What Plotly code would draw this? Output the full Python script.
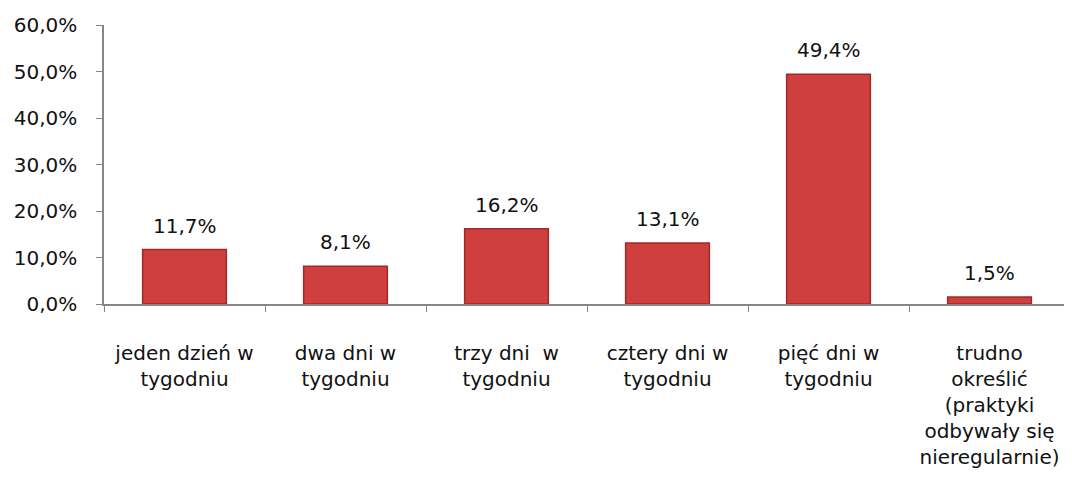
import plotly.graph_objects as go

categories = [
    "jeden dzień w<br>tygodniu",
    "dwa dni w<br>tygodniu",
    "trzy dni  w<br>tygodniu",
    "cztery dni w<br>tygodniu",
    "pięć dni w<br>tygodniu",
    "trudno<br>określić<br>(praktyki<br>odbywały się<br>nieregularnie)",
]
values = [0.117, 0.081, 0.162, 0.131, 0.494, 0.015]
y_ticks = [0, 0.1, 0.2, 0.3, 0.4, 0.5, 0.6]

FONT = "DejaVu Sans"
FS = 20
TXT = "#111111"


def pct(v):
    return f"{v * 100:.1f}%".replace(".", ",")


fig = go.Figure()
fig.add_trace(go.Bar(
    x=categories,
    y=values,
    width=0.52,
    marker=dict(color="#CF3F3D", line=dict(color="#9E2A2A", width=1.5)),
    hoverinfo="skip",
))

for c, v in zip(categories, values):
    fig.add_annotation(
        x=c, y=v, text=pct(v), showarrow=False,
        yanchor="bottom", yshift=10,
        font=dict(family=FONT, size=FS, color=TXT),
    )

fig.update_layout(
    width=1064, height=481,
    margin=dict(l=96, r=2, t=17, b=185),
    paper_bgcolor="white", plot_bgcolor="white",
    separators=", ",
    showlegend=False,
    font=dict(family=FONT, size=FS, color=TXT),
)
fig.update_xaxes(
    automargin=False,
    showline=True, linecolor="#868686", linewidth=1.5,
    ticks="outside", tickson="boundaries", ticklen=6, tickcolor="#868686",
    tickfont=dict(family=FONT, size=FS, color=TXT),
    ticklabelstandoff=30,
    showgrid=False, zeroline=False,
)
fig.update_yaxes(
    automargin=False,
    range=[0, 0.6], tickvals=y_ticks, tickformat=".1%",
    showline=True, linecolor="#868686", linewidth=1.5,
    ticks="outside", ticklen=6, tickcolor="#868686",
    tickfont=dict(family=FONT, size=FS, color=TXT),
    ticklabelstandoff=15,
    showgrid=False, zeroline=False,
)

fig.write_html("out.html")
